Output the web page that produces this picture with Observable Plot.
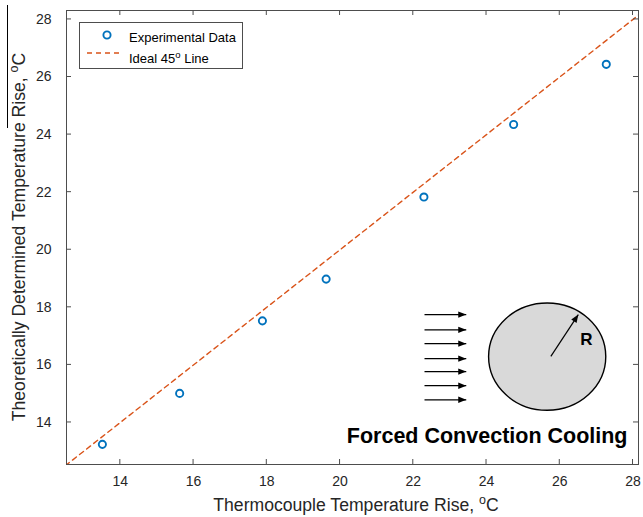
<!DOCTYPE html>
<html><head><meta charset="utf-8">
<script src="https://cdn.jsdelivr.net/npm/d3@7"></script>
<script src="https://cdn.jsdelivr.net/npm/@observablehq/plot@0.6"></script>
<style>body{margin:0;background:#fff} svg{display:block}</style>
</head><body><div id="chart"></div>
<script>
// ---- data ----
const thermocoupleRise = [13.51, 15.62, 17.88, 19.62, 22.29, 24.74, 27.27];
const theoreticalRise  = [13.24, 15.01, 17.53, 18.98, 21.83, 24.35, 26.44];
const idealLine = [12.5, 28.3];
const xTicks = [14, 16, 18, 20, 22, 24, 26, 28];
const yTicks = [14, 16, 18, 20, 22, 24, 26, 28];
const xDomain = [12.53, 28.15];
const yDomain = [12.54, 28.31];
// inset diagram (data coordinates)
const flowArrowY = [17.73, 17.20, 16.72, 16.20, 15.75, 15.26, 14.77];
const flowArrowX = [22.32, 23.46];
const cylinderCenter = [25.67, 16.27];
const cylinderRadii = [1.60, 1.865];
const radiusArrowX = [25.77, 26.52];
const radiusArrowY = [16.28, 17.73];
const radiusLabel = [{text: "R", x: 26.73, y: 16.89}];
const diagramTitle = [{text: "Forced Convection Cooling", x: 27.85, y: 13.51}];
const legendLabels = ["Experimental Data", "Ideal 45", "o", " Line"];
const xLabel = ["Thermocouple Temperature Rise, ", "o", "C"];
const yLabel = ["Theoretically Determined Temperature Rise, ", "o", "C"];

const W = 643, H = 517, ML = 66, MR = 5, MT = 10, MB = 53;
const FONT = "'Liberation Sans', Arial, Helvetica, sans-serif";
const AX = "#4d4d4d", TXT = "#262626", BLUE = "#0072BD", ORANGE = "#D95319";

const points = thermocoupleRise.map((x, i) => ({x, y: theoreticalRise[i]}));
const ideal = idealLine.map(v => ({v}));

const plot = Plot.plot({
  width: W, height: H,
  marginLeft: ML, marginRight: MR, marginTop: MT, marginBottom: MB,
  style: {fontFamily: FONT, background: "#fff", color: TXT},
  x: {domain: xDomain},
  y: {domain: yDomain},
  marks: [
    Plot.frame({stroke: AX}),
    Plot.axisX({ticks: xTicks, tickSize: 0, tickPadding: 12, fontSize: 14, label: null}),
    Plot.axisY({ticks: yTicks, tickSize: 0, tickPadding: 15, fontSize: 14, label: null}),
    Plot.line(ideal, {x: "v", y: "v", stroke: ORANGE, strokeWidth: 1.4, strokeDasharray: "5,4", clip: true}),
    Plot.dot(points, {x: "x", y: "y", r: 3.6, stroke: BLUE, strokeWidth: 1.9, fill: "none"}),
    Plot.text(radiusLabel, {x: "x", y: "y", text: "text", fontSize: 17, fontWeight: "bold", fill: "#000", lineAnchor: "middle"}),
    Plot.text(diagramTitle, {x: "x", y: "y", text: "text", fontSize: 21.5, fontWeight: "bold", fill: "#000", textAnchor: "end", lineAnchor: "middle"})
  ]
});
document.getElementById("chart").append(plot);

const X = plot.scale("x").apply, Y = plot.scale("y").apply;
const svg = d3.select(plot);
const g = svg.append("g");

// inward ticks on all four sides
xTicks.forEach(t => {
  const px = X(t);
  g.append("line").attr("x1", px).attr("x2", px).attr("y1", H - MB).attr("y2", H - MB - 5).attr("stroke", AX);
  g.append("line").attr("x1", px).attr("x2", px).attr("y1", MT).attr("y2", MT + 5).attr("stroke", AX);
});
yTicks.forEach(t => {
  const py = Y(t);
  g.append("line").attr("y1", py).attr("y2", py).attr("x1", ML).attr("x2", ML + 5).attr("stroke", AX);
  g.append("line").attr("y1", py).attr("y2", py).attr("x1", W - MR).attr("x2", W - MR - 5).attr("stroke", AX);
});

// arrow helper
function arrow(x1, y1, x2, y2, w) {
  g.append("line").attr("x1", x1).attr("y1", y1).attr("x2", x2).attr("y2", y2)
    .attr("stroke", "#000").attr("stroke-width", w);
  const a = Math.atan2(y2 - y1, x2 - x1), L = 8, hw = 3.2;
  const bx = x2 - L * Math.cos(a), by = y2 - L * Math.sin(a);
  const p = [[x2, y2], [bx - hw * Math.sin(a), by + hw * Math.cos(a)], [bx + hw * Math.sin(a), by - hw * Math.cos(a)]];
  g.append("polygon").attr("points", p.map(d => d.join(",")).join(" ")).attr("fill", "#000");
}
flowArrowY.forEach(v => arrow(X(flowArrowX[0]), Y(v), X(flowArrowX[1]), Y(v), 1.3));

// cylinder
const cx = X(cylinderCenter[0]), cy = Y(cylinderCenter[1]);
g.append("ellipse").attr("cx", cx).attr("cy", cy)
  .attr("rx", Math.abs(X(cylinderCenter[0] + cylinderRadii[0]) - cx))
  .attr("ry", Math.abs(Y(cylinderCenter[1] + cylinderRadii[1]) - cy))
  .attr("fill", "#d9d9d9").attr("stroke", "#000").attr("stroke-width", 1.4);
arrow(X(radiusArrowX[0]), Y(radiusArrowY[0]), X(radiusArrowX[1]), Y(radiusArrowY[1]), 1.2);
// raise R label above ellipse
svg.node().appendChild(svg.selectAll("text").filter(function(){return this.textContent === "R";}).node().parentNode);

// legend
const lg = svg.append("g").attr("font-family", FONT).attr("fill", "#000").attr("text-anchor", "start");
lg.append("rect").attr("x", 79.5).attr("y", 22.5).attr("width", 163).attr("height", 46)
  .attr("fill", "#fff").attr("stroke", AX);
lg.append("circle").attr("cx", 107).attr("cy", 35).attr("r", 3.6)
  .attr("fill", "none").attr("stroke", BLUE).attr("stroke-width", 1.9);
lg.append("line").attr("x1", 87).attr("x2", 122).attr("y1", 53).attr("y2", 53)
  .attr("stroke", ORANGE).attr("stroke-width", 1.4).attr("stroke-dasharray", "5,4");
lg.append("text").attr("x", 129).attr("y", 42).attr("font-size", 13).text(legendLabels[0]);
const t2 = lg.append("text").attr("x", 129).attr("y", 62.5).attr("font-size", 13);
t2.append("tspan").text(legendLabels[1]);
t2.append("tspan").attr("font-size", 9.5).attr("dy", -5).text(legendLabels[2]);
t2.append("tspan").attr("dy", 5).text(legendLabels[3]);

// axis labels
const xl = svg.append("text").attr("x", 356).attr("y", 511).attr("text-anchor", "middle")
  .attr("font-family", FONT).attr("font-size", 17.6).attr("fill", TXT);
xl.append("tspan").text(xLabel[0]);
xl.append("tspan").attr("font-size", 12.5).attr("dy", -7).text(xLabel[1]);
xl.append("tspan").attr("dy", 7).text(xLabel[2]);

const yl = svg.append("text").attr("transform", `translate(25,${(MT + H - MB) / 2}) rotate(-90)`)
  .attr("text-anchor", "middle").attr("font-family", FONT).attr("font-size", 17.6).attr("fill", TXT);
yl.append("tspan").text(yLabel[0]);
yl.append("tspan").attr("font-size", 12.5).attr("dy", -7).text(yLabel[1]);
yl.append("tspan").attr("dy", 7).text(yLabel[2]);

// overbar on the y label
svg.append("line").attr("x1", 7.5).attr("x2", 7.5).attr("y1", 5).attr("y2", 128).attr("stroke", "#000");
</script></body></html>
